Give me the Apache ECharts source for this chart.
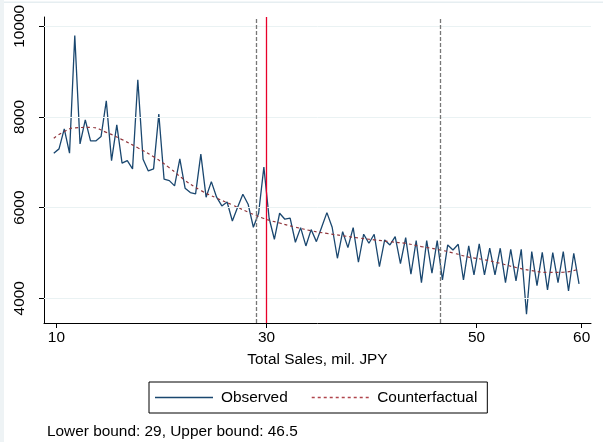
<!DOCTYPE html>
<html>
<head>
<meta charset="utf-8">
<script src="https://cdn.jsdelivr.net/npm/echarts@6/dist/echarts.min.js"></script>
<style>
html,body{margin:0;padding:0;background:#fff;}
#chart{width:603px;height:442px;}
</style>
</head>
<body>
<div id="chart"></div>
<script>
// x positions of observations (mil. JPY)
const xStart = 9.75, xStep = 0.5;
const observed = [
7201,7296,7737,7201,9797,7406,7936,7472,7472,7567,
8355,7037,7826,6980,7037,6854,8819,7068,6810,6854,
8062,6627,6596,6479,7075,6428,6331,6302,7179,6230,
6574,6230,6037,6125,5706,6009,6296,6075,5567,5876,
6892,5766,5302,5876,5744,5766,5236,5559,5155,5515,
5250,5567,5890,5567,4883,5470,5117,5559,4795,5413,
5214,5413,4698,5287,5177,5360,4765,5338,4530,5271,
4344,5271,4552,5271,4404,5177,5066,5192,4404,5155,
4514,5199,4514,5104,4514,5104,4344,5082,4382,5082,
3647,5029,4278,5015,4183,5007,4344,5029,4161,4993,
4316
];
const observedX = observed.map((_, i) => xStart + xStep * i);
const cfX = [9.75,10.75,11.75,13.25,14.75,16.25,17.75,19.25,20.75,22.25,23.75,25.25,26.75,28.25,29.75,31.25,32.75,34.25,35.75,37.25,38.75,40.25,41.75,43.25,44.75,46.25,47.75,49.25,50.75,52.25,53.75,55.25,56.75,58.25,59.75];
const cfY = [7530,7680,7760,7770,7660,7500,7320,7120,6880,6600,6380,6210,6060,5900,5760,5660,5570,5490,5430,5380,5330,5290,5250,5210,5140,5080,5000,4910,4850,4770,4680,4610,4570,4575,4650];
const xTicks = [10, 30, 50, 60];
const yTicks = [4000, 6000, 8000, 10000];
const lowerBound = 29, upperBound = 46.5, cutoff = 30;

const font = 'Liberation Sans, Arial, Helvetica, sans-serif';
const fs = 15.4;
const solidIcon = 'path://M0,0h58v1.5h-58z';
let dashPath = 'path://';
for (let p = 0; p < 58; p += 6) dashPath += 'M' + p + ',0h3v1.5h-3z';

const chart = echarts.init(document.getElementById('chart'), null, {renderer: 'canvas'});
chart.setOption({
  animation: false,
  backgroundColor: '#fff',
  grid: {left: 44, right: 12, top: 17, bottom: 119, containLabel: false},
  xAxis: {
    type: 'value', min: 8.82, max: 60.89,
    name: 'Total Sales, mil. JPY', nameLocation: 'middle', nameGap: 29,
    nameTextStyle: {fontFamily: font, fontSize: fs, color: '#000'},
    axisLine: {show: true, lineStyle: {color: '#000', width: 1}},
    axisTick: {show: true, customValues: xTicks, length: 5, lineStyle: {color: '#000'}},
    axisLabel: {show: true, customValues: xTicks, margin: 7, fontFamily: font, fontSize: fs, color: '#000'},
    splitLine: {show: false}
  },
  yAxis: {
    type: 'value', min: 3455, max: 10205,
    axisLine: {show: true, lineStyle: {color: '#000', width: 1}},
    axisTick: {show: true, customValues: yTicks, length: 5, lineStyle: {color: '#000'}},
    axisLabel: {show: true, customValues: yTicks, rotate: 90, margin: 17, fontFamily: font, fontSize: fs, color: '#000',
      formatter: v => String(v)},
    splitLine: {show: false}
  },
  legend: {
    left: 149, top: 382,
    data: [
      {name: 'Observed', icon: solidIcon, itemStyle: {color: '#1a476f'}},
      {name: 'Counterfactual', icon: dashPath, itemStyle: {color: '#b0454c'}}
    ],
    borderColor: '#000', borderWidth: 1, borderRadius: 0,
    padding: [8, 10, 8, 6],
    itemWidth: 58, itemHeight: 1.5, itemGap: 24,
    textStyle: {fontFamily: font, fontSize: fs, color: '#000', padding: [0, 0, 0, 3]}
  },
  graphic: [
    {type: 'rect', left: 0, top: 1.5, shape: {width: 603, height: 1.5}, style: {fill: '#e6eef1'}, silent: true},
    {type: 'rect', left: 0, top: 0, shape: {width: 4, height: 442}, style: {fill: '#eef3f5'}, silent: true},
    {type: 'text', left: 47, top: 424, style: {text: 'Lower bound: 29, Upper bound: 46.5', fontFamily: font, fontSize: fs, fill: '#000'}}
  ],
  series: [
    {
      name: 'grid', type: 'line', data: [], z: 1, silent: true,
      markLine: {
        silent: true, symbol: 'none', label: {show: false},
        lineStyle: {color: '#eaf2f3', width: 1, type: 'solid'},
        data: yTicks.map(v => ({yAxis: v}))
      }
    },
    {
      name: 'Observed', type: 'line', z: 3,
      data: observedX.map((x, i) => [x, observed[i]]),
      showSymbol: false, symbol: 'none',
      lineStyle: {color: '#1a476f', width: 1.3},
      itemStyle: {color: '#1a476f'}
    },
    {
      name: 'Counterfactual', type: 'line', z: 4, smooth: true,
      data: cfX.map((x, i) => [x, cfY[i]]),
      showSymbol: false, symbol: 'none',
      lineStyle: {color: '#90353b', width: 1.2, type: [3, 3]},
      itemStyle: {color: '#90353b'}
    },
    {
      name: 'bounds', type: 'line', data: [], z: 5, silent: true,
      markLine: {
        silent: true, symbol: 'none', label: {show: false},
        data: [
          {xAxis: lowerBound, lineStyle: {color: '#777', width: 1.3, type: [4, 2]}},
          {xAxis: upperBound, lineStyle: {color: '#777', width: 1.3, type: [4, 2]}},
          {xAxis: cutoff, lineStyle: {color: '#e8002a', width: 1.3, type: 'solid'}}
        ]
      }
    }
  ]
});
</script>
</body>
</html>
